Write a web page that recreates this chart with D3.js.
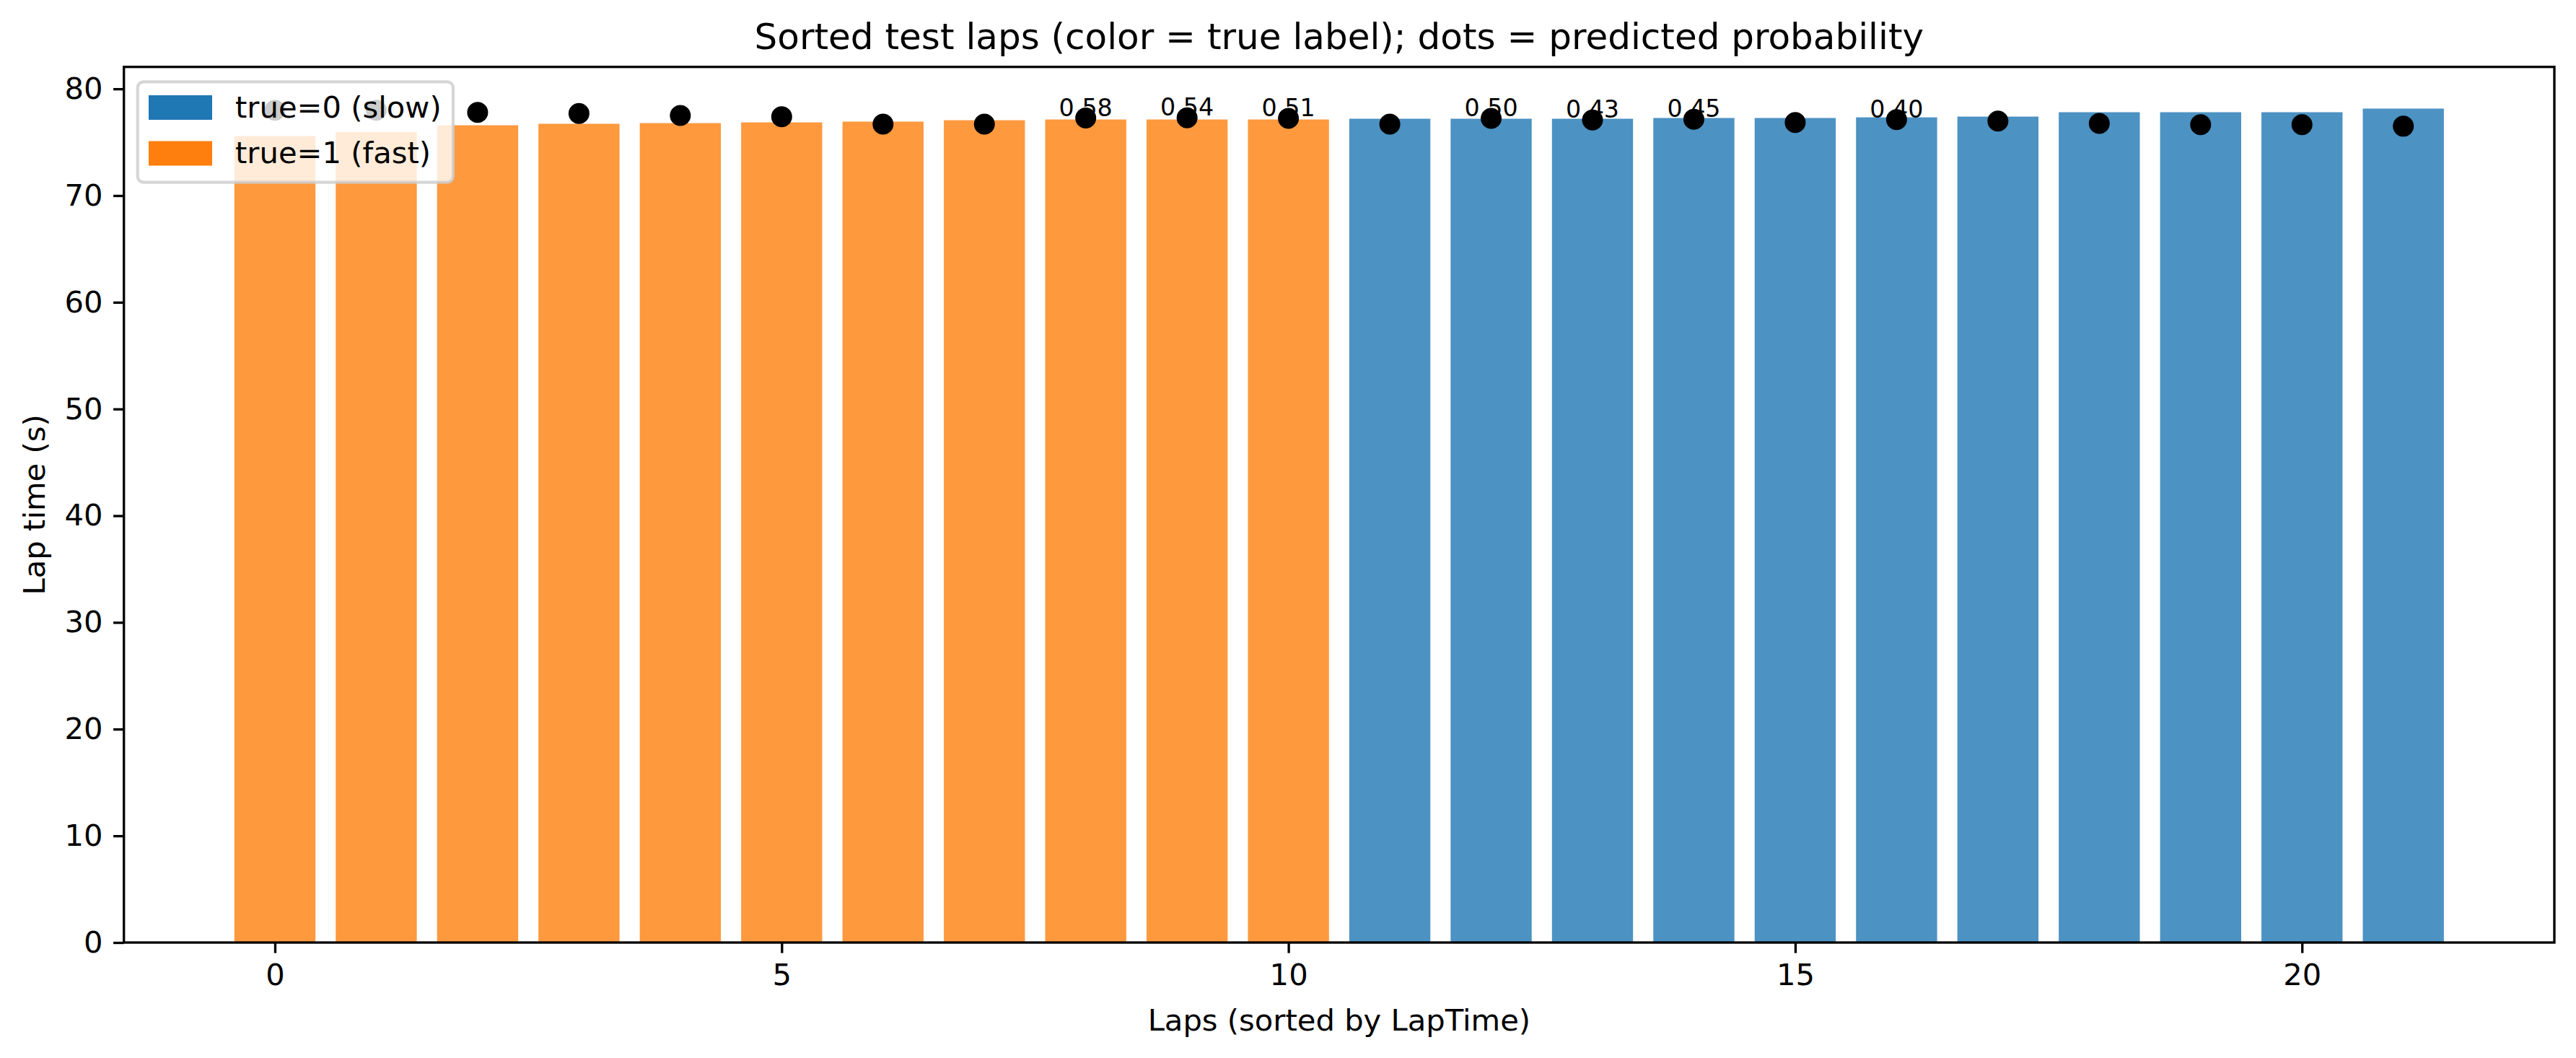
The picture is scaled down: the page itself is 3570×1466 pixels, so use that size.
<!DOCTYPE html>
<html>
<head>
<meta charset="utf-8">
<script src="https://cdn.jsdelivr.net/npm/d3@7"></script>
<style>
  body { margin: 0; background: #fff; }
  svg { display: block; font-family: "DejaVu Sans", sans-serif; }
</style>
</head>
<body>
<svg id="chart"></svg>
<script>
// Lap times of the sorted test laps (seconds)
const lapTimes = [75.57, 75.96, 76.59, 76.73, 76.79, 76.86, 76.93, 77.06, 77.13, 77.13, 77.13,
                  77.20, 77.20, 77.20, 77.27, 77.27, 77.33, 77.40, 77.81, 77.81, 77.81, 78.15];
// True label per lap: 1 = fast, 0 = slow
const trueLabels = [1, 1, 1, 1, 1, 1, 1, 1, 1, 1, 1,
                    0, 0, 0, 0, 0, 0, 0, 0, 0, 0, 0];
// Height of the black probability dots
const dotValues = [77.99, 77.99, 77.80, 77.69, 77.50, 77.38, 76.70, 76.70, 77.27, 77.29, 77.23,
                   76.69, 77.23, 77.08, 77.15, 76.84, 77.11, 76.98, 76.76, 76.64, 76.64, 76.50];
// Probability annotations (only shown for some laps)
const probLabels = [null, null, null, null, null, null, null, null, "0.58", "0.54", "0.51",
                    null, "0.50", "0.43", "0.45", null, "0.40", null, null, null, null, null];

const xTicks = [0, 5, 10, 15, 20];
const yTicks = [0, 10, 20, 30, 40, 50, 60, 70, 80];
const legendItems = [
  { label: "true=0 (slow)", color: "#1f77b4" },
  { label: "true=1 (fast)", color: "#ff7f0e" }
];

const width = 3570;
const height = 1466;
const plot = { left: 171.7, right: 3540, top: 92.7, bottom: 1306 };
const fontTick = 41.7;
const lw = 3.33;

const svg = d3.select("#chart")
  .attr("width", width)
  .attr("height", height);

const laps = lapTimes.map((t, i) => ({
  index: i,
  time: t,
  label: trueLabels[i],
  dot: dotValues[i],
  prob: probLabels[i]
}));

// matplotlib style limits: bars of width 0.8 plus 5% margin
const barW = 0.8;
const xMin = -barW / 2, xMax = laps.length - 1 + barW / 2;
const xPad = (xMax - xMin) * 0.05;
const xScale = d3.scaleLinear()
  .domain([xMin - xPad, xMax + xPad])
  .range([plot.left, plot.right]);

const yScale = d3.scaleLinear()
  .domain([0, d3.max(lapTimes) * 1.05])
  .range([plot.bottom, plot.top]);

const colorFor = l => (l === 1 ? "#ff7f0e" : "#1f77b4");

// Bars
svg.append("g")
  .selectAll("rect")
  .data(laps)
  .enter()
  .append("rect")
  .attr("x", d => xScale(d.index - barW / 2))
  .attr("width", d => xScale(d.index + barW / 2) - xScale(d.index - barW / 2))
  .attr("y", d => yScale(d.time))
  .attr("height", d => yScale(0) - yScale(d.time))
  .attr("fill", d => colorFor(d.label))
  .attr("fill-opacity", 0.8);

// Probability dots
svg.append("g")
  .selectAll("circle")
  .data(laps)
  .enter()
  .append("circle")
  .attr("cx", d => xScale(d.index))
  .attr("cy", d => yScale(d.dot))
  .attr("r", 14.5)
  .attr("fill", "#000");

// Probability labels
svg.append("g")
  .selectAll("text")
  .data(laps.filter(d => d.prob !== null))
  .enter()
  .append("text")
  .attr("x", d => xScale(d.index))
  .attr("y", d => yScale(d.dot + 0.2))
  .attr("text-anchor", "middle")
  .attr("font-size", 33.3)
  .attr("fill", "#000")
  .text(d => d.prob);

// Axes
const xAxis = d3.axisBottom(xScale)
  .tickValues(xTicks)
  .tickFormat(d3.format("d"))
  .tickSize(14.6)
  .tickSizeOuter(0)
  .tickPadding(14.6);

const gx = svg.append("g")
  .attr("transform", `translate(0, ${plot.bottom})`)
  .call(xAxis);

const yAxis = d3.axisLeft(yScale)
  .tickValues(yTicks)
  .tickFormat(d3.format("d"))
  .tickSize(14.6)
  .tickSizeOuter(0)
  .tickPadding(14.6);

const gy = svg.append("g")
  .attr("transform", `translate(${plot.left}, 0)`)
  .call(yAxis);

[gx, gy].forEach(g => {
  g.select(".domain").remove();
  g.selectAll(".tick line").attr("stroke", "#000").attr("stroke-width", lw);
  g.selectAll(".tick text")
    .attr("fill", "#000")
    .attr("font-size", fontTick)
    .attr("font-family", "DejaVu Sans");
});

// Spines
svg.append("rect")
  .attr("x", plot.left)
  .attr("y", plot.top)
  .attr("width", plot.right - plot.left)
  .attr("height", plot.bottom - plot.top)
  .attr("fill", "none")
  .attr("stroke", "#000")
  .attr("stroke-width", lw);

// Title and axis labels
const cx = (plot.left + plot.right) / 2;
svg.append("text")
  .attr("x", cx)
  .attr("y", 68.3)
  .attr("text-anchor", "middle")
  .attr("font-size", 50)
  .text("Sorted test laps (color = true label); dots = predicted probability");

svg.append("text")
  .attr("x", cx)
  .attr("y", 1427.7)
  .attr("text-anchor", "middle")
  .attr("font-size", fontTick)
  .text("Laps (sorted by LapTime)");

svg.append("text")
  .attr("transform", `translate(62, ${(plot.top + plot.bottom) / 2}) rotate(-90)`)
  .attr("text-anchor", "middle")
  .attr("font-size", fontTick)
  .text("Lap time (s)");

// Legend
const legend = svg.append("g").attr("class", "legend");

legend.append("rect")
  .attr("x", 190.7)
  .attr("y", 113.3)
  .attr("width", 437.3)
  .attr("height", 139.4)
  .attr("rx", 8.3)
  .attr("fill", "#fff")
  .attr("fill-opacity", 0.8)
  .attr("stroke", "#ccc")
  .attr("stroke-opacity", 0.8)
  .attr("stroke-width", 4.17);

legendItems.forEach((item, i) => {
  const row = legend.append("g")
    .attr("transform", `translate(0, ${i * 63.5})`);

  row.append("rect")
    .attr("x", 206)
    .attr("y", 132)
    .attr("width", 88)
    .attr("height", 34)
    .attr("fill", item.color);

  row.append("text")
    .attr("x", 326)
    .attr("y", 162.5)
    .attr("font-size", fontTick)
    .text(item.label);
});
</script>
</body>
</html>
